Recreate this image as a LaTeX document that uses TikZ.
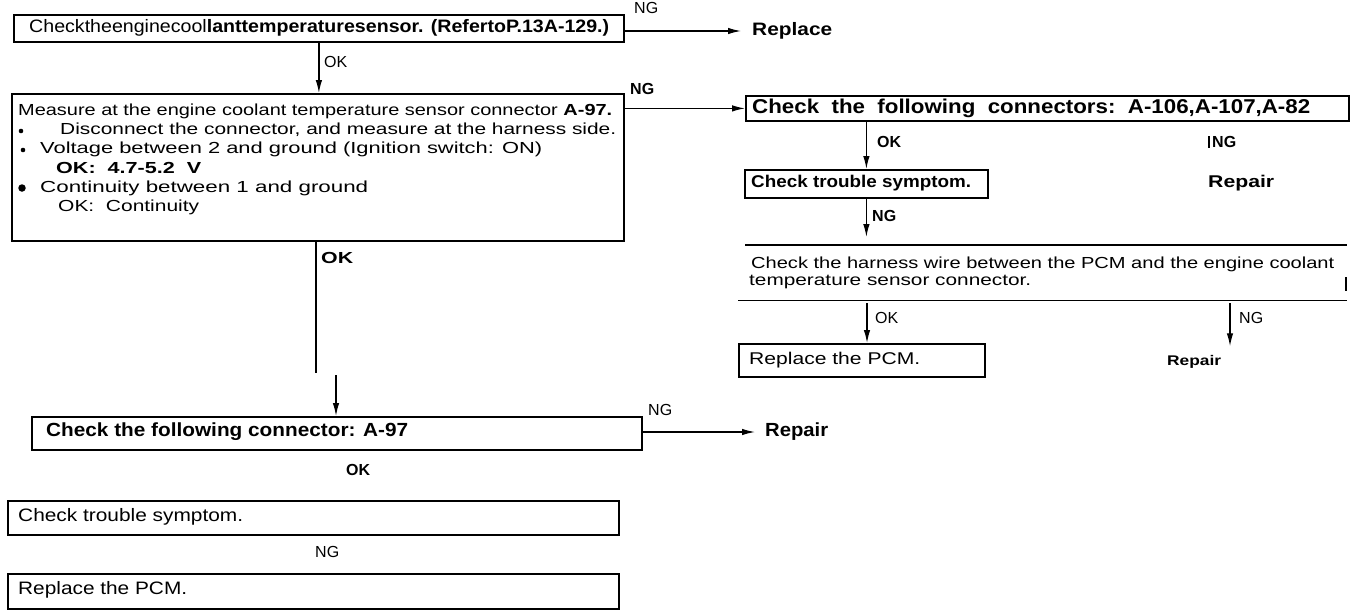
\documentclass[tikz,border=0pt]{standalone}
\usepackage{fontspec}
\setmainfont{Liberation Sans}
\usetikzlibrary{arrows.meta}
\newcommand{\fw}[2]{\resizebox{#1pt}{\height}{#2}}
\newcommand{\fs}[1]{\fontsize{#1}{#1}\selectfont}
\begin{document}
\begin{tikzpicture}[x=1pt,y=-1pt,
  box/.style={draw,line width=1.8pt,inner sep=0pt,anchor=north west},
  frame/.style={inner sep=0pt,anchor=north west},
  txt/.style={inner sep=0pt,anchor=west},
  dot/.style={circle,fill,inner sep=0pt,minimum size=#1},
  ln/.style={line width=1.3pt},
  rule/.style={line width=1.8pt},
  arr/.style={line width=1.3pt,-{Latex[length=13pt,width=6.5pt]}}]
\useasboundingbox (0,0) rectangle (1359,613);

% ---------- left column ----------
\node[box,minimum width=610pt,minimum height=27pt] (b1) at (13,14) {};
\node[txt] (t1) at (29,28) {\fs{18}\fw{580}{Checktheenginecool\textbf{lanttemperaturesensor. (RefertoP.13A-129.)}}};
\node[txt] (ng1) at (634,8) {\fs{16}NG};
\node[txt] (rep1) at (752,31) {\fs{18}\fw{80}{\textbf{Replace}}};
\draw[arr] (b1.east |- rep1.west) -- ([xshift=-11pt]rep1.west);

\node[box,minimum width=612pt,minimum height=147pt] (b2) at (11,93) {};
\draw[arr] (b1.south) -- (b1.south |- b2.north);
\node[txt] (ok1) at (324,62) {\fs{16}OK};

\node[txt] (l1) at (18,111) {\fs{16}\fw{594}{Measure at the engine coolant temperature sensor connector \textbf{A-97.}}};
\node[dot=4.6pt] (bu1) at (21,131) {};
\node[txt] (l2) at (60,130) {\fs{16}\fw{556}{Disconnect the connector, and measure at the harness side.}};
\node[dot=4.6pt] (bu2) at (23,150) {};
\node[txt] (l3) at (40,149) {\fs{16}\fw{502}{Voltage between 2 and ground (Ignition switch: ON)}};
\node[txt] (l4) at (56,168) {\fs{16}\fw{145}{\textbf{OK:\ \ 4.7-5.2\ \ V}}};
\node[dot=7.5pt] (bu3) at (22,188) {};
\node[txt] (l5) at (40,188) {\fs{16}\fw{328}{Continuity between 1 and ground}};
\node[txt] (l6) at (58,207) {\fs{16}\fw{141}{OK:\ \ Continuity}};

\node[txt] (ng2) at (630,89) {\fs{16}\textbf{NG}};

\coordinate (c1) at (316,373);
\draw[ln] (b2.south -| c1) -- (c1);
\node[txt] (ok2) at (321,258) {\fs{16}\fw{32}{\textbf{OK}}};
\coordinate (c2) at (336,375);
\node[box,minimum width=610pt,minimum height=33pt] (b7) at (31,416) {};
\draw[arr] (c2) -- (c2 |- b7.north);
\node[txt] (t7) at (46,432) {\fs{19}\fw{362}{\textbf{Check the following connector: A-97}}};
\node[txt] (ng3) at (648,410) {\fs{16}NG};
\node[txt] (rep2) at (765,432) {\fs{19}\fw{63}{\textbf{Repair}}};
\draw[arr] (b7.east |- rep2.west) -- ([xshift=-10pt]rep2.west);
\node[txt] (ok4) at (346,470) {\fs{16}\fw{24}{\textbf{OK}}};

\node[box,minimum width=611pt,minimum height=34pt] (b8) at (7,500) {};
\node[txt] (t8) at (18,517) {\fs{18}\fw{225}{Check trouble symptom.}};
\node[txt] (ng5) at (315,552) {\fs{16}NG};
\node[box,minimum width=611pt,minimum height=35pt] (b9) at (7,573) {};
\node[txt] (t9) at (18,590) {\fs{18}\fw{169}{Replace the PCM.}};

% ---------- right column ----------
\node[box,minimum width=603pt,minimum height=25pt] (b3) at (745,95) {};
\draw[arr] (b2.east |- b3.west) -- (b3.west);
\node[txt] (t3) at (752,108) {\fs{20}\fw{558}{\textbf{Check\ \ the\ \ following\ \ connectors:\ \ A-106,A-107,A-82}}};

\node[box,minimum width=243pt,minimum height=28pt] (b4) at (744,169) {};
\draw[arr] (b3.south -| b4.north) -- (b4.north);
\node[txt] (ok3) at (877,142) {\fs{16}\textbf{OK}};
\node[txt] (t4) at (751,183) {\fs{17}\fw{220}{\textbf{Check trouble symptom.}}};

\node[txt] (ng4) at (1212,142) {\fs{16}\textbf{NG}};
\draw[ln] ([xshift=-3pt]ng4.north west) -- ([xshift=-3pt]ng4.south west);
\node[txt] (rep3) at (1208,183) {\fs{17}\fw{66}{\textbf{Repair}}};

\node[frame,minimum width=602pt,minimum height=55pt] (b5) at (745,245) {};
\draw[rule] (b5.north west) -- (b5.north east);
\draw[rule] ([xshift=-7pt]b5.south west) -- (b5.south east);
\draw[line width=1.5pt] (1346,277) -- (1346,291);
\draw[arr] (b4.south) -- ([yshift=8pt]b4.south |- b5.north);
\node[txt] (ng6) at (872,216) {\fs{16}\textbf{NG}};
\node[txt] (t5a) at (751,264) {\fs{16}\fw{583}{Check the harness wire between the PCM and the engine coolant}};
\node[txt] (t5b) at (749,282) {\fs{16}\fw{282}{temperature sensor connector.}};

\node[box,minimum width=246pt,minimum height=33pt] (b6) at (738,343) {};
\coordinate (a6) at (867,0);
\draw[arr] ([yshift=-3pt]b5.south -| a6) -- (b6.north -| a6);
\node[txt] (ok5) at (875,318) {\fs{16}OK};
\node[txt] (t6) at (749,360) {\fs{17}\fw{171}{Replace the PCM.}};

\node[txt] (rep4) at (1167,362) {\fs{14}\fw{54}{\textbf{Repair}}};
\coordinate (a7) at (1230,0);
\draw[arr,shorten >=9pt] ([yshift=-3pt]b5.south -| a7) -- (a7 |- rep4.north);
\node[txt] (ng7) at (1239,318) {\fs{16}NG};
\end{tikzpicture}
\end{document}
